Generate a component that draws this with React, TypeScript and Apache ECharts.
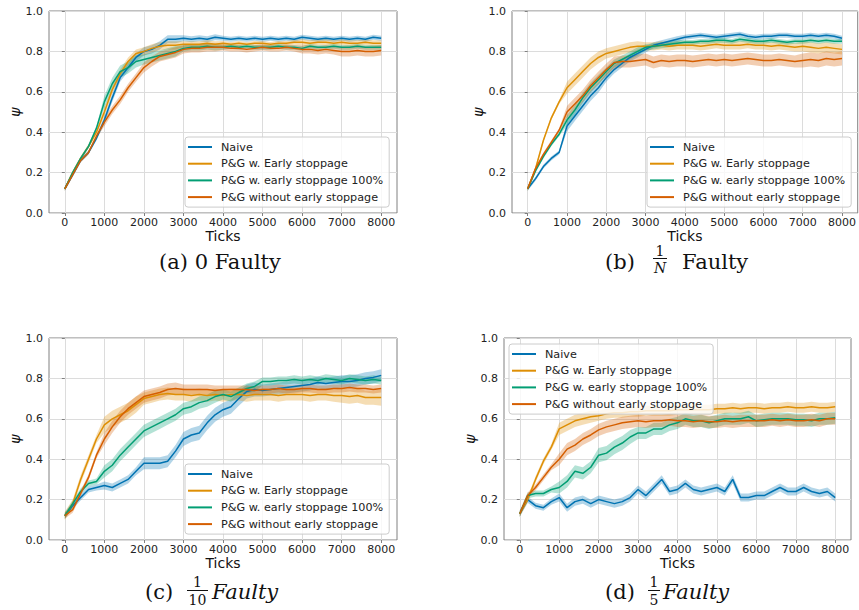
import React, { useEffect, useRef } from "react";
import * as echarts from "echarts";

const TICKS = [
  0, 200, 400, 600, 800, 1000, 1200, 1400, 1600, 1800, 2000, 2200, 2400, 2600, 2800, 3000, 3200, 3400, 3600, 3800,
  4000, 4200, 4400, 4600, 4800, 5000, 5200, 5400, 5600, 5800, 6000, 6200, 6400, 6600, 6800, 7000, 7200, 7400, 7600,
  7800, 8000,
];
const X_LABELS = [0, 1000, 2000, 3000, 4000, 5000, 6000, 7000, 8000];
const NAMES = ["Naive", "P&G w. Early stoppage", "P&G w. early stoppage 100%", "P&G without early stoppage"];
const COLORS = ["#0173b2", "#de8f05", "#029e73", "#d55e00"];

// (a) 0 Faulty
const aNaive = [0.12, 0.19, 0.26, 0.3, 0.37, 0.46, 0.57, 0.67, 0.72, 0.77, 0.8, 0.81, 0.83, 0.86, 0.86, 0.865, 0.86, 0.865, 0.86, 0.87, 0.865, 0.86, 0.865, 0.86, 0.865, 0.86, 0.865, 0.86, 0.865, 0.86, 0.87, 0.865, 0.86, 0.865, 0.86, 0.865, 0.86, 0.865, 0.86, 0.87, 0.865];
const aEarly = [0.12, 0.2, 0.27, 0.33, 0.4, 0.5, 0.61, 0.69, 0.75, 0.79, 0.8, 0.815, 0.825, 0.83, 0.83, 0.835, 0.835, 0.835, 0.84, 0.835, 0.84, 0.835, 0.84, 0.835, 0.84, 0.84, 0.835, 0.84, 0.84, 0.845, 0.845, 0.84, 0.845, 0.845, 0.84, 0.845, 0.84, 0.84, 0.845, 0.84, 0.84];
const aFull = [0.12, 0.2, 0.27, 0.33, 0.42, 0.55, 0.64, 0.7, 0.72, 0.75, 0.76, 0.77, 0.78, 0.79, 0.8, 0.815, 0.82, 0.82, 0.825, 0.82, 0.82, 0.825, 0.82, 0.825, 0.82, 0.82, 0.82, 0.825, 0.82, 0.82, 0.815, 0.825, 0.82, 0.82, 0.825, 0.82, 0.82, 0.825, 0.82, 0.82, 0.82];
const aWithout = [0.12, 0.19, 0.26, 0.3, 0.38, 0.45, 0.51, 0.56, 0.62, 0.67, 0.72, 0.75, 0.775, 0.785, 0.795, 0.81, 0.815, 0.815, 0.82, 0.82, 0.82, 0.815, 0.815, 0.81, 0.815, 0.82, 0.815, 0.815, 0.82, 0.815, 0.81, 0.81, 0.805, 0.81, 0.805, 0.8, 0.8, 0.805, 0.8, 0.8, 0.805];

// (b) 1/N Faulty
const bNaive = [0.12, 0.17, 0.23, 0.27, 0.3, 0.43, 0.48, 0.53, 0.58, 0.62, 0.67, 0.71, 0.74, 0.77, 0.79, 0.81, 0.83, 0.84, 0.85, 0.86, 0.87, 0.875, 0.88, 0.875, 0.87, 0.875, 0.88, 0.885, 0.875, 0.87, 0.875, 0.875, 0.88, 0.88, 0.875, 0.875, 0.88, 0.875, 0.88, 0.875, 0.865];
const bEarly = [0.12, 0.22, 0.36, 0.47, 0.55, 0.62, 0.66, 0.7, 0.74, 0.77, 0.79, 0.8, 0.81, 0.82, 0.825, 0.825, 0.825, 0.83, 0.825, 0.83, 0.83, 0.83, 0.825, 0.83, 0.835, 0.83, 0.83, 0.83, 0.835, 0.83, 0.83, 0.825, 0.83, 0.825, 0.82, 0.825, 0.82, 0.815, 0.82, 0.815, 0.81];
const bFull = [0.12, 0.21, 0.28, 0.34, 0.39, 0.46, 0.51, 0.57, 0.62, 0.66, 0.7, 0.74, 0.76, 0.78, 0.8, 0.82, 0.825, 0.83, 0.835, 0.84, 0.845, 0.845, 0.85, 0.85, 0.855, 0.855, 0.85, 0.86, 0.855, 0.85, 0.85, 0.855, 0.85, 0.845, 0.85, 0.85, 0.855, 0.85, 0.855, 0.85, 0.85];
const bWithout = [0.12, 0.22, 0.29, 0.35, 0.41, 0.5, 0.54, 0.58, 0.63, 0.67, 0.71, 0.745, 0.75, 0.75, 0.755, 0.76, 0.745, 0.755, 0.75, 0.755, 0.755, 0.75, 0.755, 0.76, 0.755, 0.76, 0.755, 0.76, 0.765, 0.76, 0.755, 0.755, 0.76, 0.755, 0.75, 0.755, 0.76, 0.755, 0.765, 0.76, 0.765];

// (c) 1/10 Faulty
const cNaive = [0.12, 0.17, 0.21, 0.25, 0.26, 0.27, 0.26, 0.28, 0.3, 0.34, 0.38, 0.38, 0.38, 0.39, 0.44, 0.5, 0.52, 0.53, 0.58, 0.62, 0.645, 0.66, 0.7, 0.735, 0.745, 0.74, 0.745, 0.75, 0.755, 0.76, 0.765, 0.77, 0.78, 0.775, 0.78, 0.785, 0.785, 0.79, 0.8, 0.805, 0.815];
const cEarly = [0.12, 0.18, 0.3, 0.4, 0.5, 0.57, 0.6, 0.62, 0.64, 0.67, 0.7, 0.71, 0.72, 0.725, 0.72, 0.72, 0.715, 0.72, 0.715, 0.72, 0.715, 0.72, 0.72, 0.715, 0.72, 0.72, 0.72, 0.715, 0.72, 0.72, 0.72, 0.715, 0.72, 0.72, 0.715, 0.715, 0.71, 0.715, 0.705, 0.705, 0.705];
const cFull = [0.12, 0.18, 0.24, 0.28, 0.29, 0.34, 0.37, 0.42, 0.46, 0.5, 0.54, 0.56, 0.58, 0.6, 0.62, 0.65, 0.66, 0.68, 0.69, 0.71, 0.72, 0.71, 0.73, 0.75, 0.76, 0.785, 0.785, 0.79, 0.79, 0.795, 0.79, 0.795, 0.79, 0.8, 0.795, 0.79, 0.8, 0.795, 0.79, 0.795, 0.79];
const cWithout = [0.12, 0.15, 0.23, 0.31, 0.42, 0.5, 0.56, 0.61, 0.65, 0.68, 0.71, 0.72, 0.73, 0.745, 0.75, 0.745, 0.745, 0.745, 0.745, 0.74, 0.745, 0.745, 0.745, 0.745, 0.74, 0.745, 0.745, 0.75, 0.745, 0.745, 0.75, 0.75, 0.745, 0.745, 0.75, 0.75, 0.755, 0.75, 0.75, 0.745, 0.75];

// (d) 1/5 Faulty
const dNaive = [0.13, 0.2, 0.17, 0.16, 0.19, 0.21, 0.16, 0.19, 0.2, 0.18, 0.2, 0.19, 0.18, 0.19, 0.21, 0.25, 0.22, 0.26, 0.3, 0.24, 0.25, 0.28, 0.25, 0.24, 0.25, 0.26, 0.24, 0.3, 0.21, 0.21, 0.22, 0.22, 0.24, 0.26, 0.24, 0.24, 0.26, 0.24, 0.23, 0.24, 0.21];
const dEarly = [0.13, 0.2, 0.3, 0.39, 0.46, 0.55, 0.57, 0.59, 0.6, 0.61, 0.615, 0.625, 0.63, 0.63, 0.635, 0.635, 0.64, 0.64, 0.64, 0.64, 0.645, 0.645, 0.645, 0.645, 0.645, 0.65, 0.65, 0.655, 0.65, 0.655, 0.655, 0.65, 0.655, 0.655, 0.66, 0.655, 0.655, 0.66, 0.655, 0.655, 0.66];
const dFull = [0.13, 0.22, 0.23, 0.23, 0.25, 0.26, 0.29, 0.34, 0.33, 0.36, 0.42, 0.43, 0.46, 0.48, 0.51, 0.53, 0.53, 0.55, 0.55, 0.57, 0.58, 0.6, 0.59, 0.59, 0.58, 0.59, 0.6, 0.6, 0.6, 0.61, 0.59, 0.595, 0.6, 0.6, 0.6, 0.595, 0.595, 0.59, 0.6, 0.6, 0.605];
const dWithout = [0.13, 0.22, 0.26, 0.31, 0.36, 0.4, 0.45, 0.47, 0.5, 0.52, 0.545, 0.56, 0.57, 0.58, 0.585, 0.59, 0.585, 0.59, 0.59, 0.595, 0.59, 0.59, 0.585, 0.59, 0.585, 0.585, 0.59, 0.585, 0.59, 0.59, 0.59, 0.59, 0.595, 0.59, 0.595, 0.59, 0.59, 0.595, 0.59, 0.6, 0.6];

// half-width of the shaded band, one value per 1000-tick stretch (0..8000)
const aSpread = [
  [0.01, 0.02, 0.02, 0.015, 0.012, 0.012, 0.012, 0.012, 0.012],
  [0.01, 0.02, 0.02, 0.015, 0.012, 0.012, 0.015, 0.015, 0.015],
  [0.01, 0.03, 0.025, 0.015, 0.012, 0.012, 0.012, 0.012, 0.012],
  [0.01, 0.02, 0.025, 0.02, 0.015, 0.015, 0.02, 0.025, 0.025],
];
const bSpread = [
  [0.01, 0.025, 0.02, 0.015, 0.012, 0.012, 0.012, 0.012, 0.012],
  [0.01, 0.03, 0.025, 0.02, 0.02, 0.02, 0.02, 0.025, 0.025],
  [0.01, 0.025, 0.02, 0.015, 0.012, 0.012, 0.012, 0.012, 0.012],
  [0.01, 0.03, 0.03, 0.03, 0.03, 0.03, 0.03, 0.035, 0.035],
];
const cSpread = [
  [0.015, 0.02, 0.03, 0.035, 0.035, 0.03, 0.03, 0.03, 0.03],
  [0.02, 0.04, 0.03, 0.03, 0.03, 0.03, 0.03, 0.035, 0.04],
  [0.015, 0.03, 0.03, 0.03, 0.025, 0.02, 0.02, 0.02, 0.02],
  [0.015, 0.03, 0.03, 0.025, 0.02, 0.02, 0.02, 0.02, 0.02],
];
const dSpread = [
  [0.015, 0.02, 0.02, 0.02, 0.02, 0.02, 0.02, 0.02, 0.02],
  [0.015, 0.03, 0.025, 0.025, 0.025, 0.025, 0.025, 0.025, 0.025],
  [0.015, 0.03, 0.035, 0.03, 0.03, 0.03, 0.03, 0.03, 0.03],
  [0.015, 0.03, 0.03, 0.03, 0.03, 0.03, 0.03, 0.03, 0.03],
];

const PANELS = [
  { values: [aNaive, aEarly, aFull, aWithout], spread: aSpread, grid: { left: 49, top: 11, width: 348, height: 202 }, legend: { left: 185, top: 137 } },
  { values: [bNaive, bEarly, bFull, bWithout], spread: bSpread, grid: { left: 512, top: 11, width: 347, height: 202 }, legend: { left: 647, top: 137 } },
  { values: [cNaive, cEarly, cFull, cWithout], spread: cSpread, grid: { left: 49, top: 338, width: 348, height: 202 }, legend: { left: 185, top: 464 } },
  { values: [dNaive, dEarly, dFull, dWithout], spread: dSpread, grid: { left: 504, top: 338, width: 347, height: 202 }, legend: { left: 509, top: 344 } },
];

const SANS = "DejaVu Sans";
const SERIF = "DejaVu Serif";
const CAP = 21;
const FR = 14;

function txt(text: string, x: number, y: number, opts: any = {}) {
  return {
    type: "text",
    x,
    y,
    silent: true,
    style: {
      text,
      fill: "#111",
      fontFamily: SERIF,
      fontSize: opts.size || CAP,
      fontStyle: opts.italic ? "italic" : "normal",
      align: opts.align || "left",
      verticalAlign: "middle",
    },
  };
}
function bar(x1: number, x2: number, y: number) {
  return { type: "line", silent: true, shape: { x1, y1: y, x2, y2: y }, style: { stroke: "#111", lineWidth: 1 } };
}

export default function App() {
  const ref = useRef<HTMLDivElement>(null);
  useEffect(() => {
    if (!ref.current) return;
    const chart = echarts.init(ref.current, null, { renderer: "svg" });
    const grids: any[] = [];
    const xAxes: any[] = [];
    const yAxes: any[] = [];
    const legends: any[] = [];
    const series: any[] = [];
    PANELS.forEach((p, pi) => {
      grids.push({ ...p.grid, show: true, borderColor: "#808080", borderWidth: 1, backgroundColor: "#fff" });
      xAxes.push({
        type: "value",
        gridIndex: pi,
        min: -400,
        max: 8400,
        name: "Ticks",
        nameLocation: "middle",
        nameGap: 14,
        nameTextStyle: { fontFamily: SANS, fontSize: 14, color: "#111" },
        axisLine: { show: false },
        axisTick: { show: true, length: 3, customValues: X_LABELS, lineStyle: { color: "#808080" } },
        axisLabel: {
          customValues: X_LABELS,
          fontFamily: SANS,
          fontSize: 11,
          color: "#222",
          margin: 4,
          formatter: (v: number) => String(v),
        },
        splitLine: { show: true, lineStyle: { color: "#dcdcdc", width: 1 } },
      });
      yAxes.push({
        type: "value",
        gridIndex: pi,
        min: 0,
        max: 1,
        interval: 0.2,
        name: "ψ",
        nameLocation: "middle",
        nameGap: 25,
        nameTextStyle: { fontFamily: SANS, fontSize: 14, color: "#111", fontStyle: "italic" },
        axisLine: { show: false },
        axisTick: { show: true, length: 3, lineStyle: { color: "#808080" } },
        axisLabel: { fontFamily: SANS, fontSize: 11, color: "#222", margin: 6, formatter: (v: number) => v.toFixed(1) },
        splitLine: { show: true, lineStyle: { color: "#dcdcdc", width: 1 } },
      });
      legends.push({
        orient: "vertical",
        left: p.legend.left,
        top: p.legend.top,
        data: NAMES,
        icon: "rect",
        itemWidth: 24,
        itemHeight: 2,
        itemGap: 2.7,
        selectedMode: false,
        backgroundColor: "rgba(255,255,255,0.8)",
        borderColor: "#cccccc",
        borderWidth: 1,
        borderRadius: 3,
        padding: [3, 6, 3, 3],
        textStyle: { fontFamily: SANS, fontSize: 11.2, color: "#222", lineHeight: 14, padding: [0, 0, 0, 4] },
      });
      p.values.forEach((vals, si) => {
        const spr = p.spread[si];
        series.push({
          type: "custom",
          name: NAMES[si] + " band " + pi,
          xAxisIndex: pi,
          yAxisIndex: pi,
          silent: true,
          z: 1,
          data: [[0, vals[0]]],
          encode: { x: 0, y: 1 },
          renderItem: (params: any, api: any) => {
            const pts: number[][] = [];
            for (let i = 0; i < TICKS.length; i++) pts.push(api.coord([TICKS[i], vals[i] + spr[Math.floor(i / 5)]]));
            for (let i = TICKS.length - 1; i >= 0; i--) pts.push(api.coord([TICKS[i], vals[i] - spr[Math.floor(i / 5)]]));
            return { type: "polygon", shape: { points: pts }, style: { fill: COLORS[si], opacity: 0.3 } };
          },
        });
      });
      p.values.forEach((vals, si) => {
        series.push({
          type: "line",
          name: NAMES[si],
          xAxisIndex: pi,
          yAxisIndex: pi,
          z: 2 + si,
          symbol: "none",
          color: COLORS[si],
          itemStyle: { color: COLORS[si] },
          lineStyle: { color: COLORS[si], width: 1.5 },
          data: TICKS.map((t, i) => [t, vals[i]]),
        });
      });
    });

    const graphic: any[] = [
      txt("(a) 0 Faulty", 220, 262, { align: "center" }),
      txt("(b)", 605, 262),
      txt("1", 660, 250.5, { size: FR, align: "center" }),
      bar(653, 667, 258.5),
      txt("N", 660, 267.5, { size: FR, align: "center", italic: true }),
      txt("Faulty", 682, 262),
      txt("(c)", 145, 592),
      txt("1", 197.5, 582, { size: FR, align: "center" }),
      bar(187, 208, 590.5),
      txt("10", 197.5, 599.5, { size: FR, align: "center" }),
      txt("Faulty", 212, 592, { italic: true }),
      txt("(d)", 605, 592),
      txt("1", 654, 582, { size: FR, align: "center" }),
      bar(648, 660, 590.5),
      txt("5", 654, 599.5, { size: FR, align: "center" }),
      txt("Faulty", 663, 592, { italic: true }),
    ];

    chart.setOption({
      animation: false,
      backgroundColor: "#fff",
      grid: grids,
      xAxis: xAxes,
      yAxis: yAxes,
      legend: legends,
      series,
      graphic,
    });
    return () => chart.dispose();
  }, []);
  return <div ref={ref} style={{ position: "absolute", left: 0, top: 0, width: 859, height: 610 }} />;
}
